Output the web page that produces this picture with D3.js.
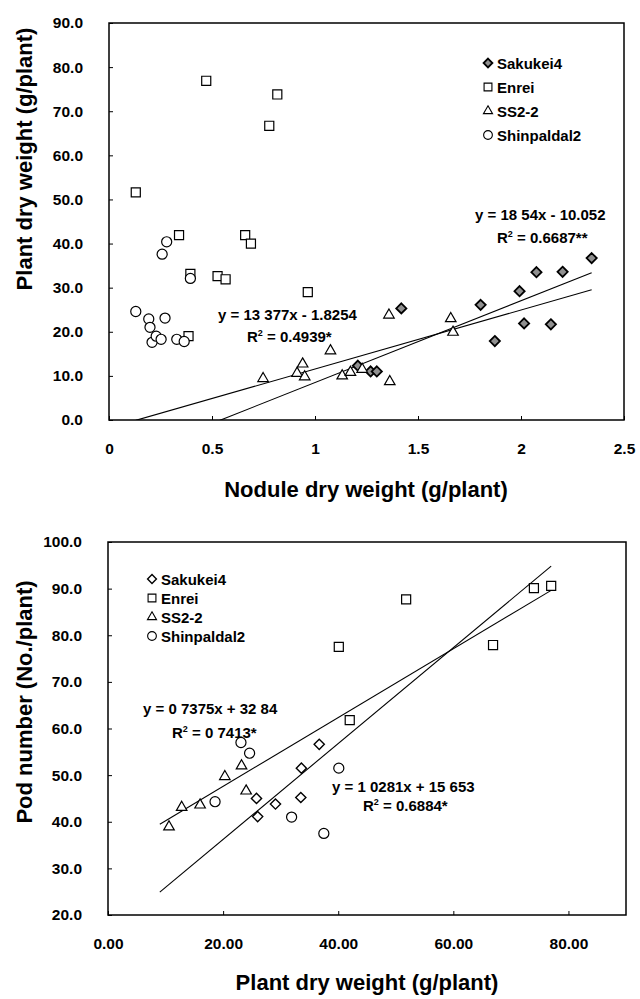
<!DOCTYPE html>
<html><head><meta charset="utf-8">
<script src="https://cdn.jsdelivr.net/npm/d3@7"></script>
<style>
body{margin:0;background:#fff}
svg{display:block}
text{font-family:"Liberation Sans",Arial,sans-serif;font-weight:bold;fill:#000}
</style>
</head><body>
<svg id="chart" width="640" height="999"></svg>
<script>
// ---------------- DATA ----------------
const seriesNames = ["Sakukei4", "Enrei", "SS2-2", "Shinpaldal2"];

// Panel A: nodule dry weight (x) vs plant dry weight (y)
const aSakukei4X = [1.208, 1.27, 1.30, 1.419, 1.804, 1.873, 1.993, 2.015, 2.075, 2.145, 2.202, 2.343];
const aSakukei4Y = [12.3, 11.0, 11.0, 25.3, 26.1, 17.9, 29.2, 21.9, 33.5, 21.7, 33.6, 36.7];
const aEnreiX = [0.130, 0.340, 0.386, 0.395, 0.472, 0.527, 0.566, 0.661, 0.689, 0.778, 0.817, 0.965];
const aEnreiY = [51.6, 41.9, 19.0, 33.1, 76.9, 32.6, 31.9, 41.9, 40.0, 66.7, 73.8, 29.0];
const aSS22X = [0.748, 0.913, 0.940, 0.950, 1.075, 1.132, 1.172, 1.229, 1.359, 1.363, 1.659, 1.670];
const aSS22Y = [9.4, 10.6, 12.7, 9.8, 15.7, 10.0, 10.8, 11.5, 23.8, 8.7, 23.0, 19.9];
const aShinX = [0.130, 0.193, 0.199, 0.209, 0.229, 0.253, 0.258, 0.272, 0.280, 0.329, 0.365, 0.395];
const aShinY = [24.6, 22.9, 21.0, 17.6, 19.0, 18.3, 37.6, 23.1, 40.4, 18.3, 17.8, 32.1];
const aXTicks = [0, 0.5, 1, 1.5, 2, 2.5];
const aXTickLabels = ["0", "0.5", "1", "1.5", "2", "2.5"];
const aYTicks = [0, 10, 20, 30, 40, 50, 60, 70, 80, 90];
const aYTickLabels = ["0.0", "10.0", "20.0", "30.0", "40.0", "50.0", "60.0", "70.0", "80.0", "90.0"];
const aTrendSlopes = [13.377, 18.54];
const aTrendIntercepts = [-1.8254, -10.052];
const aTrendRange = [0.13, 2.343];
const aEquations = ["y = 13 377x - 1.8254", "y = 18 54x - 10.052"];
const aR2Values = [" = 0.4939*", " = 0.6687**"];

// Panel B: plant dry weight (x) vs pod number (y)
const bSakukei4X = [25.8, 26.0, 29.1, 33.5, 33.6, 36.7];
const bSakukei4Y = [45.0, 41.1, 43.8, 45.2, 51.5, 56.6];
const bEnreiX = [40.1, 42.0, 51.8, 66.9, 74.0, 77.0];
const bEnreiY = [77.5, 61.8, 87.7, 77.9, 90.1, 90.6];
const bSS22X = [10.6, 12.8, 16.0, 20.3, 23.2, 24.0];
const bSS22Y = [38.9, 43.1, 43.6, 49.7, 52.0, 46.6];
const bShinX = [18.6, 23.1, 24.6, 31.9, 37.5, 40.1];
const bShinY = [44.3, 57.0, 54.7, 41.0, 37.5, 51.5];
const bXTicks = [0, 20, 40, 60, 80];
const bXTickLabels = ["0.00", "20.00", "40.00", "60.00", "80.00"];
const bYTicks = [20, 30, 40, 50, 60, 70, 80, 90, 100];
const bYTickLabels = ["20.0", "30.0", "40.0", "50.0", "60.0", "70.0", "80.0", "90.0", "100.0"];
const bTrendSlopes = [0.7375, 1.0281];
const bTrendIntercepts = [32.84, 15.653];
const bTrendRange = [9.0, 77.0];
const bEquations = ["y = 0 7375x + 32 84", "y = 1 0281x + 15 653"];
const bR2Values = [" = 0 7413*", " = 0.6884*"];

// ---------------- DRAWING ----------------
const svg = d3.select("#chart");

const diamondType = {
  draw(ctx, size) {
    const r = Math.sqrt(size / 2);
    ctx.moveTo(0, -r); ctx.lineTo(r, 0); ctx.lineTo(0, r); ctx.lineTo(-r, 0); ctx.closePath();
  }
};
const symbolTypes = [diamondType, d3.symbolSquare, d3.symbolTriangle, d3.symbolCircle];
const symbolSizes = [52, 82, 48, 80];

function zip(xs, ys) { return xs.map((x, i) => ({x, y: ys[i]})); }

function drawPanel(p) {
  const g = svg.append("g");
  const x = d3.scaleLinear().domain(p.xDomain).range([p.left, p.right]);
  const y = d3.scaleLinear().domain(p.yDomain).range([p.bottom, p.top]);

  const clipId = "clip" + p.id;
  svg.append("clipPath").attr("id", clipId).append("rect")
    .attr("x", p.left).attr("y", p.top).attr("width", p.right - p.left).attr("height", p.bottom - p.top);

  // axes with inward ticks
  const xAxis = d3.axisBottom(x).tickValues(p.xTicks).tickSize(-4).tickFormat((d, i) => p.xLabels[i]).tickPadding(23);
  const yAxis = d3.axisLeft(y).tickValues(p.yTicks).tickSize(-4).tickFormat((d, i) => p.yLabels[i]).tickPadding(26);
  const gx = g.append("g").attr("transform", `translate(0,${p.bottom})`).call(xAxis);
  const gy = g.append("g").attr("transform", `translate(${p.left},0)`).call(yAxis);
  [gx, gy].forEach(a => {
    a.select(".domain").remove();
    a.selectAll(".tick line").attr("stroke", "#000").attr("stroke-width", 1);
    a.selectAll(".tick text").attr("font-size", 15.5).attr("fill", "#000")
      .style("font-family", '"Liberation Sans", Arial, sans-serif').style("font-weight", "bold");
  });

  // frame
  g.append("rect").attr("x", p.left).attr("y", p.top)
    .attr("width", p.right - p.left).attr("height", p.bottom - p.top)
    .attr("fill", "none").attr("stroke", "#000").attr("stroke-width", 1.5);

  // trend lines
  const lg = g.append("g").attr("clip-path", `url(#${clipId})`);
  p.slopes.forEach((m, i) => {
    const b = p.intercepts[i];
    const pts = [p.trendRange[0], p.trendRange[1]].map(xv => [x(xv), y(m * xv + b)]);
    lg.append("path").attr("d", d3.line()(pts)).attr("fill", "none")
      .attr("stroke", "#000").attr("stroke-width", 1.1);
  });

  // points
  p.series.forEach((s, si) => {
    const sym = d3.symbol().type(symbolTypes[si]).size(symbolSizes[si]);
    g.append("g").selectAll("path").data(s).join("path")
      .attr("transform", d => `translate(${x(d.x)},${y(d.y)})`)
      .attr("d", sym)
      .attr("fill", si === 0 ? p.diamondFill : "#fff")
      .attr("stroke", "#000").attr("stroke-width", si === 0 ? p.diamondStroke : 1.2);
  });

  // legend
  const leg = g.append("g");
  seriesNames.forEach((name, i) => {
    const yy = p.legendY + i * p.legendStep;
    leg.append("path").attr("transform", `translate(${p.legendX},${yy})`)
      .attr("d", d3.symbol().type(symbolTypes[i]).size(symbolSizes[i] * 0.75)())
      .attr("fill", i === 0 ? p.diamondFill : "#fff").attr("stroke", "#000")
      .attr("stroke-width", i === 0 ? p.diamondStroke : 1.1);
    leg.append("text").attr("x", p.legendX + 9).attr("y", yy + 5.5)
      .attr("font-size", 15).text(name);
  });

  // equations
  p.eqPos.forEach((pos, i) => {
    g.append("text").attr("x", pos[0]).attr("y", pos[1]).attr("font-size", 15).text(p.equations[i]);
    const t = g.append("text").attr("x", pos[2]).attr("y", pos[3]).attr("font-size", 15);
    t.append("tspan").text("R");
    t.append("tspan").attr("font-size", 9).attr("dy", -6).text("2");
    t.append("tspan").attr("dy", 6).text(p.r2[i]);
  });

  // axis titles
  g.append("text").attr("x", p.xTitle[0]).attr("y", p.xTitle[1]).attr("text-anchor", "middle")
    .attr("font-size", 22).text(p.xTitleText);
  g.append("text").attr("transform", `translate(${p.yTitle[0]},${p.yTitle[1]}) rotate(-90)`)
    .attr("text-anchor", "middle").attr("font-size", 22).text(p.yTitleText);
}

drawPanel({
  id: "A", left: 109, right: 624, top: 23, bottom: 420,
  xDomain: [0, 2.5], yDomain: [0, 90],
  xTicks: aXTicks, xLabels: aXTickLabels, yTicks: aYTicks, yLabels: aYTickLabels,
  series: [zip(aSakukei4X, aSakukei4Y), zip(aEnreiX, aEnreiY), zip(aSS22X, aSS22Y), zip(aShinX, aShinY)],
  slopes: aTrendSlopes, intercepts: aTrendIntercepts, trendRange: aTrendRange,
  equations: aEquations, r2: aR2Values,
  eqPos: [[218, 320, 247, 342], [475, 220, 497, 243]],
  legendX: 488, legendY: 63, legendStep: 24, diamondFill: "#909090", diamondStroke: 1.8,
  xTitle: [366, 497], xTitleText: "Nodule dry weight (g/plant)",
  yTitle: [32, 159], yTitleText: "Plant dry weight (g/plant)"
});

drawPanel({
  id: "B", left: 108, right: 626, top: 542, bottom: 915,
  xDomain: [0, 90], yDomain: [20, 100],
  xTicks: bXTicks, xLabels: bXTickLabels, yTicks: bYTicks, yLabels: bYTickLabels,
  series: [zip(bSakukei4X, bSakukei4Y), zip(bEnreiX, bEnreiY), zip(bSS22X, bSS22Y), zip(bShinX, bShinY)],
  slopes: bTrendSlopes, intercepts: bTrendIntercepts, trendRange: bTrendRange,
  equations: bEquations, r2: bR2Values,
  eqPos: [[143, 714, 172, 738], [332, 792, 363, 811]],
  legendX: 152, legendY: 579, legendStep: 19, diamondFill: "#fff", diamondStroke: 1.4,
  xTitle: [367, 990], xTitleText: "Plant dry weight (g/plant)",
  yTitle: [32, 702], yTitleText: "Pod number (No./plant)"
});
</script>
</body></html>
